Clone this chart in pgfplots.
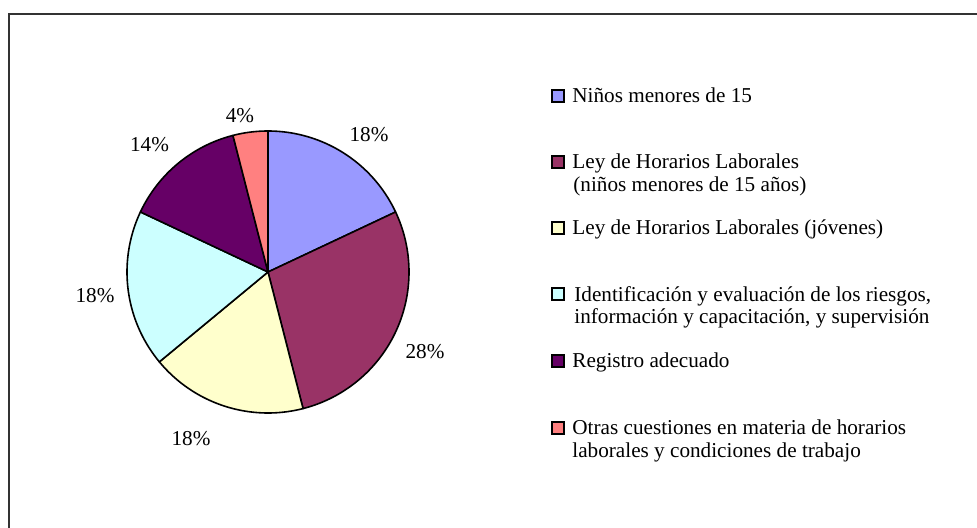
\documentclass[border=0pt]{standalone}
\usepackage{fontspec}
\setmainfont{Liberation Serif}
\usepackage{pgfplots}
\pgfplotsset{compat=1.18}

\definecolor{cA}{HTML}{9999FF}
\definecolor{cB}{HTML}{993366}
\definecolor{cC}{HTML}{FFFFCC}
\definecolor{cD}{HTML}{CCFFFF}
\definecolor{cE}{HTML}{660066}
\definecolor{cF}{HTML}{FF8080}

% slice values (percent), clockwise from the top
\def\vA{18}\def\vB{28}\def\vC{18}\def\vD{18}\def\vE{14}\def\vF{4}
\pgfmathsetmacro\aA{90}
\pgfmathsetmacro\aB{\aA-3.6*\vA}
\pgfmathsetmacro\aC{\aB-3.6*\vB}
\pgfmathsetmacro\aD{\aC-3.6*\vC}
\pgfmathsetmacro\aE{\aD-3.6*\vD}
\pgfmathsetmacro\aF{\aE-3.6*\vE}
\pgfmathsetmacro\aG{\aF-3.6*\vF}

\begin{document}
\fontsize{10.6pt}{11.7pt}\selectfont
\begin{tikzpicture}
\useasboundingbox (0,0) rectangle (488.5pt,264pt);
\begin{axis}[at={(0,0)}, anchor=south west, scale only axis,
  width=488.5pt, height=264pt,
  xmin=0, xmax=977, ymin=0, ymax=528, y dir=reverse,
  hide axis, clip=true,
  pie/.style={draw=black, line width=0.8pt, samples=90, line join=round}]
\draw[black!80, line width=0.6pt] (axis cs:9,14) rectangle (axis cs:1300,900);

\addplot[pie, fill=cA, domain=\aB:\aA] ({268+141*cos(x)},{272-141*sin(x)}) -- (axis cs:268,272) -- cycle;
\addplot[pie, fill=cB, domain=\aC:\aB] ({268+141*cos(x)},{272-141*sin(x)}) -- (axis cs:268,272) -- cycle;
\addplot[pie, fill=cC, domain=\aD:\aC] ({268+141*cos(x)},{272-141*sin(x)}) -- (axis cs:268,272) -- cycle;
\addplot[pie, fill=cD, domain=\aE:\aD] ({268+141*cos(x)},{272-141*sin(x)}) -- (axis cs:268,272) -- cycle;
\addplot[pie, fill=cE, domain=\aF:\aE] ({268+141*cos(x)},{272-141*sin(x)}) -- (axis cs:268,272) -- cycle;
\addplot[pie, fill=cF, domain=\aG:\aF] ({268+141*cos(x)},{272-141*sin(x)}) -- (axis cs:268,272) -- cycle;

% percentage labels
\node[inner sep=0] at (axis cs:369,135) {18\%};
\node[inner sep=0] at (axis cs:425,352) {28\%};
\node[inner sep=0] at (axis cs:191,439) {18\%};
\node[inner sep=0] at (axis cs:95,296) {18\%};
\node[inner sep=0] at (axis cs:149.5,145) {14\%};
\node[inner sep=0] at (axis cs:240,116) {4\%};

% legend
\draw[fill=cA, line width=1pt] (axis cs:551.5,90) rectangle (axis cs:563.5,102);
\draw[fill=cB, line width=1pt] (axis cs:551.5,155.7) rectangle (axis cs:563.5,167.7);
\draw[fill=cC, line width=1pt] (axis cs:551.5,222) rectangle (axis cs:563.5,234);
\draw[fill=cD, line width=1pt] (axis cs:551.5,288.5) rectangle (axis cs:563.5,300.5);
\draw[fill=cE, line width=1pt] (axis cs:551.5,355) rectangle (axis cs:563.5,367);
\draw[fill=cF, line width=1pt] (axis cs:551.5,422) rectangle (axis cs:563.5,434);

\node[anchor=base west, inner sep=0] at (axis cs:572,102.7) {Niños menores de 15};
\node[anchor=base west, inner sep=0] at (axis cs:572,168.4) {Ley de Horarios Laborales};
\node[anchor=base west, inner sep=0] at (axis cs:573,191.1) {(niños menores de 15 años)};
\node[anchor=base west, inner sep=0] at (axis cs:572,234.7) {Ley de Horarios Laborales (jóvenes)};
\node[anchor=base west, inner sep=0] at (axis cs:574,301.2) {Identificación y evaluación de los riesgos,};
\node[anchor=base west, inner sep=0] at (axis cs:574,323.9) {información y capacitación, y supervisión};
\node[anchor=base west, inner sep=0] at (axis cs:572,367.7) {Registro adecuado};
\node[anchor=base west, inner sep=0] at (axis cs:572,434.7) {Otras cuestiones en materia de horarios};
\node[anchor=base west, inner sep=0] at (axis cs:572,457.4) {laborales y condiciones de trabajo};
\end{axis}
\end{tikzpicture}
\end{document}
